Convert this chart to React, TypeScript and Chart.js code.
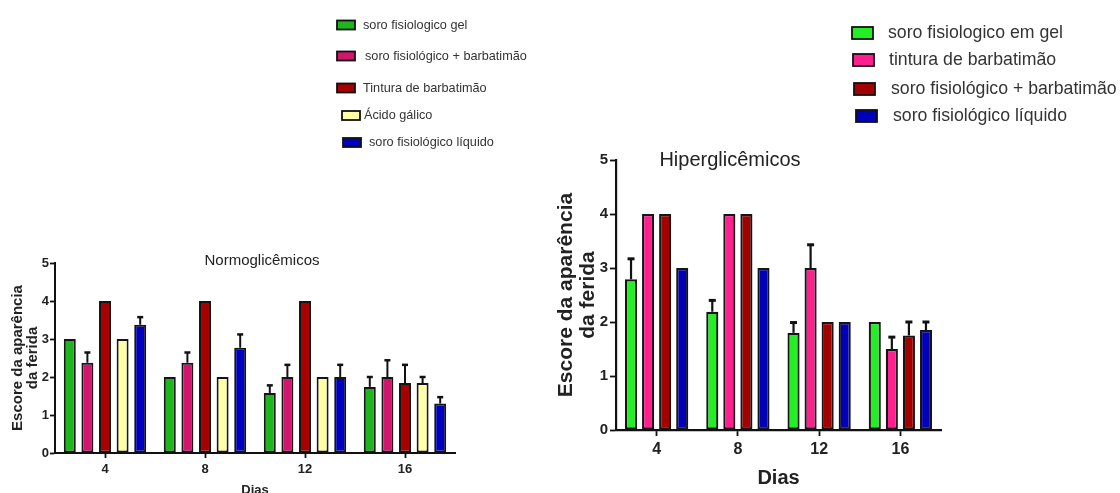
import React, { useEffect, useRef } from 'react';
import { Chart, registerables } from 'chart.js';

Chart.register(...registerables);

// ---------- DATA ----------
const days = ['4', '8', '12', '16'];

// Normoglicêmicos (left panel)
const normLegend = [
  'soro fisiologico gel',
  'soro fisiológico + barbatimão',
  'Tintura de barbatimão',
  'Ácido gálico',
  'soro fisiológico líquido',
];
const normGel = [3, 2, 1.58, 1.74];
const normGelErr = [0, 0, 0.2, 0.26];
const normSfBarb = [2.375, 2.375, 2, 2];
const normSfBarbErr = [0.27, 0.27, 0.32, 0.44];
const normTintura = [4, 4, 4, 1.84];
const normTinturaErr = [0, 0, 0, 0.48];
const normAcido = [3, 2, 2, 1.84];
const normAcidoErr = [0, 0, 0, 0.16];
const normLiquido = [3.375, 2.77, 2, 1.3];
const normLiquidoErr = [0.2, 0.35, 0.32, 0.17];

// Hiperglicêmicos (right panel)
const hiperLegend = [
  'soro fisiologico em gel',
  'tintura de barbatimão',
  'soro fisiológico + barbatimão',
  'soro fisiológico líquido',
];
const hiperGel = [2.79, 2.19, 1.8, 2];
const hiperGelErr = [0.38, 0.21, 0.19, 0];
const hiperTintura = [4, 4, 3, 1.5];
const hiperTinturaErr = [0, 0, 0.43, 0.22];
const hiperSfBarb = [4, 4, 2, 1.75];
const hiperSfBarbErr = [0, 0, 0, 0.25];
const hiperLiquido = [3, 3, 2, 1.85];
const hiperLiquidoErr = [0, 0, 0, 0.15];

const yTicks = [0, 1, 2, 3, 4, 5];

const FONT = "'Liberation Sans', Arial, Helvetica, sans-serif";

// ---------- PLUGINS ----------
const errorBarPlugin = {
  id: 'errorBars',
  afterDatasetsDraw(chart: any, _args: any, opts: any) {
    const ctx = chart.ctx;
    const yScale = chart.scales.y;
    chart.data.datasets.forEach((ds: any, di: number) => {
      const meta = chart.getDatasetMeta(di);
      const errs: number[] = ds.errors || [];
      meta.data.forEach((bar: any, i: number) => {
        const e = errs[i];
        if (!e) return;
        const v = ds.data[i] as number;
        const yTop = yScale.getPixelForValue(v + e);
        ctx.save();
        ctx.strokeStyle = opts.color;
        ctx.lineWidth = opts.lineWidth;
        ctx.beginPath();
        ctx.moveTo(bar.x, bar.y);
        ctx.lineTo(bar.x, yTop);
        ctx.stroke();
        ctx.lineWidth = opts.capThickness;
        ctx.beginPath();
        ctx.moveTo(bar.x - opts.capWidth / 2, yTop);
        ctx.lineTo(bar.x + opts.capWidth / 2, yTop);
        ctx.stroke();
        ctx.restore();
      });
    });
  },
};

const decorPlugin = {
  id: 'panelDecor',
  afterDraw(chart: any, _args: any, opts: any) {
    const ctx = chart.ctx;
    ctx.save();
    // title
    const t = opts.title;
    ctx.font = `${t.size}px ${FONT}`;
    ctx.fillStyle = t.color;
    ctx.textAlign = 'center';
    ctx.textBaseline = 'alphabetic';
    ctx.fillText(t.text, t.x, t.baseline);
    // legend
    const L = opts.legend;
    ctx.font = `${L.size}px ${FONT}`;
    ctx.textAlign = 'left';
    ctx.textBaseline = 'middle';
    chart.data.datasets.forEach((ds: any, i: number) => {
      const row = L.rows[i];
      ctx.fillStyle = ds.backgroundColor;
      ctx.fillRect(row.bx, row.y - L.boxH / 2, L.boxW, L.boxH);
      ctx.strokeStyle = '#111';
      ctx.lineWidth = 1.8;
      ctx.strokeRect(row.bx, row.y - L.boxH / 2, L.boxW, L.boxH);
      ctx.fillStyle = L.color;
      ctx.fillText(ds.label, row.tx, row.y);
    });
    ctx.restore();
  },
};

// ---------- CONFIG BUILDER ----------
function buildConfig(p: any) {
  const datasets = p.series.map((s: any) => ({
    label: s.label,
    data: s.data,
    errors: s.errors,
    backgroundColor: s.color,
    borderColor: '#151515',
    borderWidth: p.barBorder,
    borderSkipped: false,
    categoryPercentage: p.catPct,
    barPercentage: p.barPct,
  }));
  return {
    type: 'bar',
    data: { labels: days, datasets },
    plugins: [errorBarPlugin, decorPlugin],
    options: {
      responsive: false,
      animation: false,
      events: [],
      layout: {
        padding: {
          left: p.padLeft,
          top: p.area.top,
          right: p.canvasW - p.area.right,
          bottom: 0,
        },
      },
      plugins: {
        legend: { display: false },
        title: { display: false },
        tooltip: { enabled: false },
        errorBars: { color: '#111', lineWidth: p.errLine, capWidth: p.capWidth, capThickness: p.capThickness },
        panelDecor: { title: p.title, legend: p.legend },
      },
      scales: {
        x: {
          type: 'category',
          offset: true,
          afterFit: (s: any) => {
            s.height = p.canvasH - p.area.bottom;
          },
          grid: {
            display: true,
            offset: false,
            drawOnChartArea: false,
            drawTicks: true,
            tickLength: p.xTickLen,
            tickColor: '#111',
            tickWidth: 1.8,
          },
          border: { display: true, color: '#111', width: p.axisWidth },
          ticks: {
            color: '#222',
            padding: p.xTickPad,
            font: { family: FONT, size: p.xTickSize, weight: 'bold' },
            maxRotation: 0,
          },
          title: {
            display: true,
            text: 'Dias',
            color: '#222',
            font: { family: FONT, size: p.xTitleSize, weight: 'bold', lineHeight: 1.2 },
            padding: { top: 0, bottom: p.xTitlePadBottom },
          },
        },
        y: {
          type: 'linear',
          min: 0,
          max: 5,
          afterFit: (s: any) => {
            s.width = p.area.left - p.padLeft;
          },
          afterBuildTicks: (s: any) => {
            s.ticks = yTicks.map((v) => ({ value: v }));
          },
          grid: {
            display: true,
            drawOnChartArea: false,
            drawTicks: true,
            tickLength: p.yTickLen,
            tickColor: '#111',
            tickWidth: 1.8,
          },
          border: { display: true, color: '#111', width: p.axisWidth },
          ticks: {
            color: '#222',
            padding: p.yTickPad,
            font: { family: FONT, size: p.yTickSize, weight: 'bold' },
          },
          title: {
            display: true,
            text: ['Escore da aparência', 'da ferida'],
            color: '#222',
            font: { family: FONT, size: p.yTitleSize, weight: 'bold', lineHeight: p.yTitleLH },
            padding: { top: 0, bottom: 0 },
          },
        },
      },
    },
  };
}

const leftConfig = () =>
  buildConfig({
    canvasW: 560,
    canvasH: 510,
    padLeft: 10,
    area: { left: 55, right: 455, top: 263, bottom: 453 },
    catPct: 0.88,
    barPct: 0.68,
    barBorder: 2,
    axisWidth: 2,
    errLine: 2,
    capWidth: 6,
    capThickness: 2.5,
    xTickLen: 5,
    xTickPad: 4,
    xTickSize: 13,
    xTitleSize: 13,
    xTitlePadBottom: 12,
    yTickLen: 5,
    yTickPad: 1,
    yTickSize: 13,
    yTitleSize: 15,
    yTitleLH: 1.0,
    title: { text: 'Normoglicêmicos', x: 262, baseline: 265, size: 15, color: '#222' },
    legend: {
      size: 12.7,
      color: '#333',
      boxW: 18,
      boxH: 9,
      rows: [
        { bx: 337, tx: 363, y: 25 },
        { bx: 337, tx: 365, y: 56 },
        { bx: 337, tx: 363, y: 88 },
        { bx: 342, tx: 364, y: 115.5 },
        { bx: 343, tx: 369, y: 142.5 },
      ],
    },
    series: [
      { label: normLegend[0], data: normGel, errors: normGelErr, color: '#1fb51f' },
      { label: normLegend[1], data: normSfBarb, errors: normSfBarbErr, color: '#d3166d' },
      { label: normLegend[2], data: normTintura, errors: normTinturaErr, color: '#a80000' },
      { label: normLegend[3], data: normAcido, errors: normAcidoErr, color: '#ffffa6' },
      { label: normLegend[4], data: normLiquido, errors: normLiquidoErr, color: '#0000c2' },
    ],
  });

const rightConfig = () =>
  buildConfig({
    canvasW: 600,
    canvasH: 493,
    padLeft: 35,
    area: { left: 96, right: 421, top: 160, bottom: 430 },
    catPct: 0.84,
    barPct: 0.71,
    barBorder: 2.2,
    axisWidth: 2.2,
    errLine: 2.2,
    capWidth: 7,
    capThickness: 3,
    xTickLen: 6,
    xTickPad: 4,
    xTickSize: 16,
    xTitleSize: 20,
    xTitlePadBottom: 2.5,
    yTickLen: 6,
    yTickPad: 2,
    yTickSize: 15,
    yTitleSize: 21,
    yTitleLH: 1.05,
    title: { text: 'Hiperglicêmicos', x: 210, baseline: 166, size: 20, color: '#222' },
    legend: {
      size: 17.7,
      color: '#333',
      boxW: 21,
      boxH: 12,
      rows: [
        { bx: 332, tx: 368, y: 33 },
        { bx: 333, tx: 369, y: 60 },
        { bx: 334, tx: 371, y: 89 },
        { bx: 336, tx: 373, y: 116 },
      ],
    },
    series: [
      { label: hiperLegend[0], data: hiperGel, errors: hiperGelErr, color: '#24ee24' },
      { label: hiperLegend[1], data: hiperTintura, errors: hiperTinturaErr, color: '#ff1f8f' },
      { label: hiperLegend[2], data: hiperSfBarb, errors: hiperSfBarbErr, color: '#a30000' },
      { label: hiperLegend[3], data: hiperLiquido, errors: hiperLiquidoErr, color: '#0000b8' },
    ],
  });

function Panel({ left, width, height, config }: { left: number; width: number; height: number; config: () => any }) {
  const ref = useRef<HTMLCanvasElement>(null);
  useEffect(() => {
    const chart = new Chart(ref.current as HTMLCanvasElement, config() as any);
    return () => chart.destroy();
  }, []);
  return (
    <canvas
      ref={ref}
      width={width}
      height={height}
      style={{ position: 'absolute', left, top: 0, width, height, display: 'block' }}
    />
  );
}

export default function App() {
  return (
    <div
      style={{
        position: 'fixed',
        left: 0,
        top: 0,
        width: 1120,
        height: 493,
        overflow: 'hidden',
        background: '#ffffff',
      }}
    >
      <Panel left={0} width={560} height={510} config={leftConfig} />
      <Panel left={520} width={600} height={493} config={rightConfig} />
    </div>
  );
}
